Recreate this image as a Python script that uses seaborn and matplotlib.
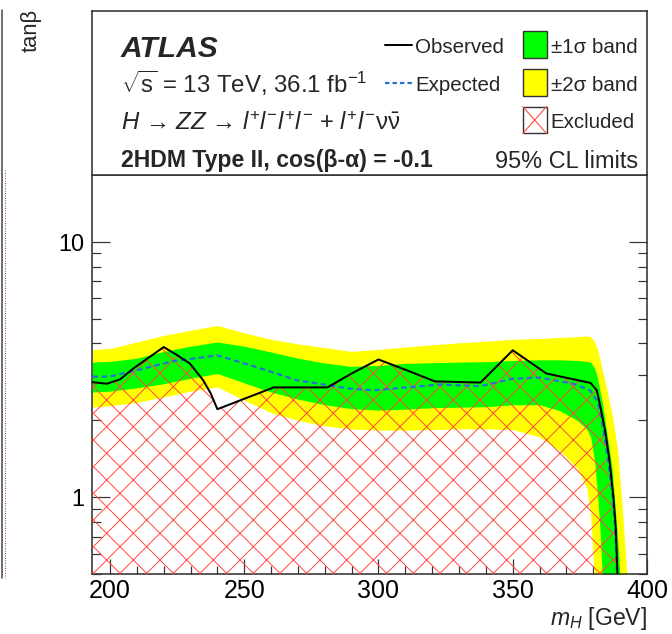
import numpy as np
import matplotlib
matplotlib.use("Agg")
import matplotlib.pyplot as plt
import seaborn as sns
from matplotlib.ticker import FixedLocator, FixedFormatter, MultipleLocator, NullFormatter, LogLocator
from matplotlib.patches import Rectangle
from matplotlib.lines import Line2D

# observed / expected limits (m_H in GeV, tan beta)
obs_m = [193.5, 198.8, 203.7, 208.7, 220, 225, 229.8, 234.7, 237.5, 240, 261, 281, 290, 300,
         310.5, 321, 338, 350, 362.5, 379, 381.3, 382.5, 384.5, 386, 387.5, 388.4, 389.0, 389.3]
obs_tanb = [2.82, 2.78, 2.89, 3.19, 3.87, 3.6, 3.33, 2.87, 2.55, 2.21, 2.69, 2.69, 3.05, 3.46,
            3.14, 2.84, 2.81, 3.76, 3.05, 2.80, 2.62, 2.3, 1.8, 1.4, 1.0, 0.75, 0.5, 0.4]

exp_m = [193.5, 200, 211, 223.6, 240, 254.6, 269.5, 289.4, 298, 310.5, 323, 338, 350,
         360, 372.6, 378.8, 381.7, 383.5, 385.5, 387, 388, 388.8, 389.2]
exp_tanb = [2.96, 2.97, 3.16, 3.41, 3.59, 3.23, 2.87, 2.66, 2.62, 2.69, 2.76, 2.72, 2.91,
            2.94, 2.78, 2.62, 2.36, 1.9, 1.4, 1.05, 0.8, 0.5, 0.4]

# +-1 sigma and +-2 sigma bands
band_m = [193.5, 200, 210, 220, 230, 240, 250, 260, 270, 280, 290, 300, 310, 320, 330, 340,
          350, 360, 367.5, 374, 377.5, 379, 380.5, 381.5, 382.5, 383.5, 385, 387, 389, 390.5, 392, 393]
band_lo2 = [2.25, 2.28, 2.35, 2.47, 2.6, 2.7, 2.4, 2.14, 2.0, 1.9, 1.85, 1.83, 1.83, 1.84, 1.85, 1.85,
            1.84, 1.72, 1.52, 1.3, 1.09, 0.86, 0.45, 0.4, 0.4, 0.4, 0.4, 0.4, 0.4, 0.4, 0.4, 0.4]
band_lo1 = [2.58, 2.6, 2.68, 2.78, 2.92, 3.05, 2.8, 2.58, 2.42, 2.3, 2.22, 2.19, 2.21, 2.24, 2.25, 2.26,
            2.3, 2.3, 2.18, 2.0, 1.85, 1.72, 1.38, 1.05, 0.75, 0.45, 0.4, 0.4, 0.4, 0.4, 0.4, 0.4]
band_hi1 = [3.38, 3.40, 3.5, 3.72, 3.9, 4.05, 3.9, 3.7, 3.5, 3.35, 3.25, 3.28, 3.34, 3.36, 3.38, 3.39,
            3.43, 3.45, 3.45, 3.43, 3.4, 3.38, 3.2, 2.95, 2.6, 2.3, 1.8, 1.3, 0.7, 0.4, 0.4, 0.4]
band_hi2 = [3.78, 3.82, 4.05, 4.3, 4.5, 4.7, 4.4, 4.15, 3.98, 3.85, 3.72, 3.79, 3.87, 3.95, 4.02, 4.08,
            4.15, 4.18, 4.22, 4.25, 4.28, 4.25, 4.05, 3.8, 3.45, 3.1, 2.65, 2.1, 1.55, 1.0, 0.6, 0.4]

x_ticks = [200, 250, 300, 350, 400]
y_ticks = [1, 10]
y_tick_labels = ["1", "10"]

DPI = 160
W, H = 672, 634
PT = 72 / DPI  # points per pixel

sns.set_style("ticks")
plt.rcParams['font.family'] = ['Liberation Sans', 'DejaVu Sans']
plt.rcParams['mathtext.fontset'] = 'custom'
plt.rcParams['mathtext.rm'] = 'Liberation Sans'
plt.rcParams['mathtext.it'] = 'Liberation Sans:italic'
plt.rcParams['mathtext.bf'] = 'Liberation Sans:bold'
plt.rcParams['hatch.linewidth'] = 1.0 * PT

GRAY = '#333333'
BLUE = '#2b6fd6'
HATCH = '#ff4a40'

fig = plt.figure(figsize=(W / DPI, H / DPI), dpi=DPI)


def fx(px):
    return px / W


def fy(py):
    return 1 - py / H


left, right, top, mid, bottom = 92, 647, 11, 175, 574
ax = fig.add_axes([fx(left), fy(bottom), fx(right) - fx(left), fy(mid) - fy(bottom)])
ax_leg = fig.add_axes([fx(left), fy(mid), fx(right) - fx(left), fy(top) - fy(mid)])

# data panel
ax.set_yscale('log')
ax.fill_between(band_m, band_lo2, band_hi2, color='#ffff00', lw=0, zorder=1)
ax.fill_between(band_m, band_lo1, band_hi1, color='#00ff00', lw=0, zorder=2)
ax.fill_between(obs_m, 0.3, obs_tanb, facecolor='none', edgecolor=HATCH, hatch='xx', lw=0, zorder=3)
sns.lineplot(x=exp_m, y=exp_tanb, ax=ax, sort=False, estimator=None, color=BLUE,
             lw=2.2 * PT, linestyle=(0, (2.5, 1.6)), zorder=4)
sns.lineplot(x=obs_m, y=obs_tanb, ax=ax, sort=False, estimator=None, color='black',
             lw=2.0 * PT, zorder=5)

ax.set_xlim(193.3, 400)
ax.set_ylim(0.5, 18.26)
ax.set_xlabel('')
ax.set_ylabel('')
ax.xaxis.set_major_locator(FixedLocator(x_ticks))
ax.xaxis.set_minor_locator(MultipleLocator(10))
ax.yaxis.set_major_locator(FixedLocator(y_ticks))
ax.yaxis.set_major_formatter(FixedFormatter(y_tick_labels))
ax.yaxis.set_minor_locator(LogLocator(base=10, subs=np.arange(2, 10)))
ax.yaxis.set_minor_formatter(NullFormatter())
ax.tick_params(axis='both', which='both', direction='in', right=True, top=False,
               color=GRAY, width=1.2 * PT, labelcolor='black')
ax.tick_params(axis='y', which='major', length=18 * PT, pad=8 * PT, labelsize=23.5 * PT)
ax.tick_params(axis='y', which='minor', length=9 * PT)
ax.tick_params(axis='x', which='major', length=15 * PT, pad=5 * PT, labelsize=25 * PT)
ax.tick_params(axis='x', which='minor', length=8 * PT)
for s in ax.spines.values():
    s.set_color(GRAY)
    s.set_linewidth(1.6 * PT)

# legend / label panel (pixel coordinates)
ax_leg.set_xlim(left, right)
ax_leg.set_ylim(mid, top)
ax_leg.set_xticks([])
ax_leg.set_yticks([])
for s in ax_leg.spines.values():
    s.set_color(GRAY)
    s.set_linewidth(1.6 * PT)

ax_leg.text(121, 56.7, 'ATLAS', fontsize=30 * PT, fontweight='bold', fontstyle='italic', va='baseline')
ax_leg.text(121, 93, r'$\sqrt{\mathrm{s}}$ = 13 TeV, 36.1 fb$^{-1}$', fontsize=24 * PT, va='baseline')
ax_leg.text(121, 130,
            r'$H$ → $ZZ$ → $l^{+}l^{-}l^{+}l^{-}$ + $l^{+}l^{-}\mathrm{\nu}\bar{\mathrm{\nu}}$',
            fontsize=24 * PT, va='baseline')
ax_leg.text(121, 167, '2HDM Type II, cos(β-α) = -0.1', fontsize=23 * PT, fontweight='bold', va='baseline')
ax_leg.text(638.5, 168, '95% CL limits', fontsize=23.5 * PT, ha='right', va='baseline')

ax_leg.plot([384.5, 412.3], [45, 45], color='black', lw=2.0 * PT)
ax_leg.plot([384.5, 412.3], [83.3, 83.3], color=BLUE, lw=2.2 * PT, linestyle=(0, (2.0, 1.4)))
ax_leg.text(415.3, 53, 'Observed', fontsize=20.5 * PT, va='baseline')
ax_leg.text(415.3, 91, 'Expected', fontsize=20.5 * PT, va='baseline')

ax_leg.add_patch(Rectangle((522.8, 31), 23.7, 26.7, facecolor='#00ff00', edgecolor=GRAY, lw=1.4 * PT))
ax_leg.add_patch(Rectangle((522.8, 69.3), 23.7, 26.7, facecolor='#ffff00', edgecolor=GRAY, lw=1.4 * PT))
ax_leg.plot([522.8, 546.5], [106.7, 133.4], color=HATCH, lw=1.1 * PT)
ax_leg.plot([522.8, 546.5], [133.4, 106.7], color=HATCH, lw=1.1 * PT)
ax_leg.add_patch(Rectangle((522.8, 106.7), 23.7, 26.7, facecolor='none', edgecolor=GRAY, lw=1.4 * PT))
ax_leg.text(550.7, 53, '±1σ band', fontsize=20.5 * PT, va='baseline')
ax_leg.text(550.7, 91, '±2σ band', fontsize=20.5 * PT, va='baseline')
ax_leg.text(550.7, 128, 'Excluded', fontsize=20.5 * PT, va='baseline')

# axis titles
fig.text(fx(31), fy(9), 'tanβ', rotation=90, ha='center', va='top', fontsize=22 * PT)
fig.text(fx(647), fy(625), r'$m_{H}$ [GeV]', ha='right', va='baseline', fontsize=23 * PT)

# edge of the neighbouring panel
fig.add_artist(Line2D([fx(2), fx(2)], [fy(10), fy(578)], color='#444444', lw=1.5 * PT))
fig.add_artist(Line2D([fx(4.5), fx(4.5)], [fy(170), fy(578)], color='#a04040', lw=1.0 * PT,
                      linestyle=(0, (1, 1.5))))

fig.savefig('out.png', dpi=DPI)
